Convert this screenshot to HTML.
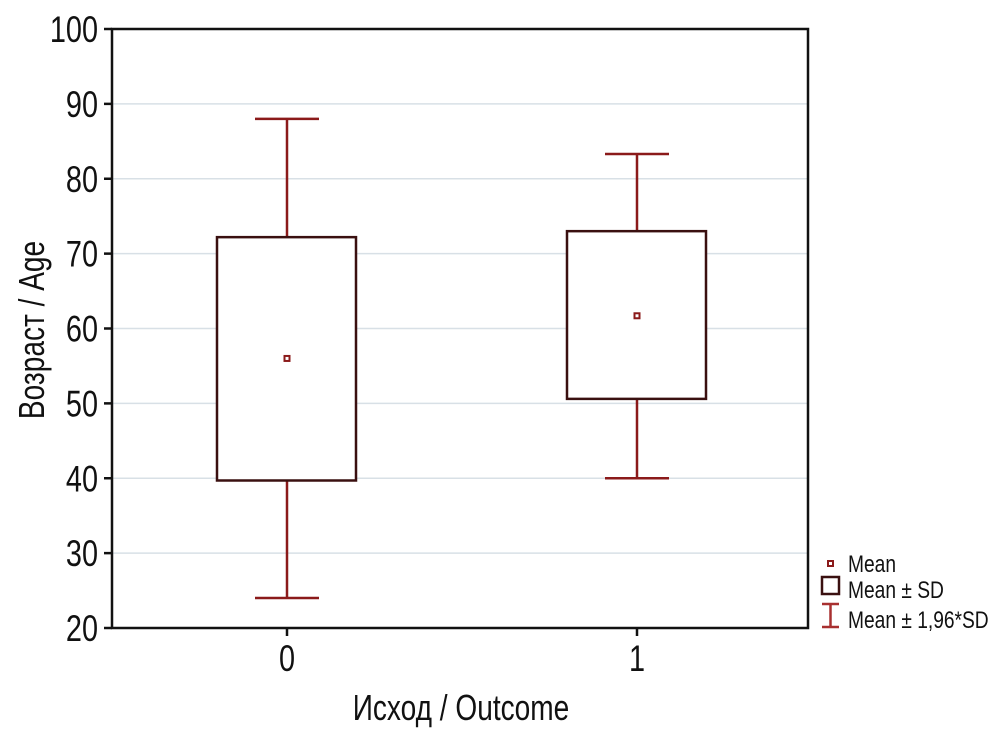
<!DOCTYPE html>
<html><head><meta charset="utf-8"><style>
body{margin:0;background:#fff;}
svg text{font-family:"Liberation Sans",sans-serif;fill:#111;}
</style></head><body>
<svg width="1004" height="735" xmlns="http://www.w3.org/2000/svg">
<g id="grid"></g>
<rect x="112" y="29" width="696" height="599" fill="none" stroke="#111" stroke-width="2.5"/>
<g id="yticks"></g>
<g id="xticks"></g>
<g id="series"></g>
<text x="0" y="0" transform="translate(44,330) rotate(-90) scale(0.78,1)" text-anchor="middle" font-size="36">Возраст / Age</text>
<text x="0" y="0" transform="translate(461,720) scale(0.78,1)" text-anchor="middle" font-size="36">Исход / Outcome</text>
<g>
<g><rect x="828" y="561" width="5" height="5" fill="none" stroke="#8b1a1a" stroke-width="2"/><text transform="translate(848,572) scale(0.8,1)" font-size="24">Mean</text></g>
<g><rect x="822" y="577" width="17" height="17" fill="none" stroke="#3a1010" stroke-width="2.5"/><text transform="translate(848,598) scale(0.8,1)" font-size="24">Mean ± SD</text></g>
<g><path d="M822,604 H839 M830.5,604 V627 M822,627 H839" stroke="#a83030" stroke-width="2.5" fill="none"/><text transform="translate(848,628) scale(0.8,1)" font-size="24">Mean ± 1,96*SD</text></g>
</g>
</svg>
<script>
const categories=["0","1"];
const means=[56,61.7];
const sdLow=[39.7,50.6];
const sdHigh=[72.2,73];
const wLow=[24,40];
const wHigh=[88,83.3];
const yTicks=[20,30,40,50,60,70,80,90,100];
const NS="http://www.w3.org/2000/svg";
const y=v=>628-(v-20)*599/80;
const x=i=>287+i*350;
function mk(parent,tag,attrs){const e=document.createElementNS(NS,tag);for(const k in attrs)e.setAttribute(k,attrs[k]);document.getElementById(parent).appendChild(e);return e;}
yTicks.forEach(t=>{
 if(t>20&&t<100){const g=mk("grid","line",{x1:113,x2:807,y1:y(t),y2:y(t),stroke:"#d8e0e6","stroke-width":1.5});
 
 }
 const tk=mk("yticks","line",{x1:104,x2:112,y1:y(t),y2:y(t),stroke:"#111","stroke-width":2.5});
 
 
 const tx=mk("yticks","text",{transform:`translate(98,${y(t)+13}) scale(0.78,1)`,"text-anchor":"end","font-size":37});
 tx.textContent=t;
 
 
});
categories.forEach((c,i)=>{
 const tk=mk("xticks","line",{x1:x(i),x2:x(i),y1:628,y2:636,stroke:"#111","stroke-width":2.5});
 
 
 const tx=mk("xticks","text",{transform:`translate(${x(i)},671) scale(0.78,1)`,"text-anchor":"middle","font-size":37});
 tx.textContent=c;
 
 
 const cx=x(i);
 const wh=mk("series","path",{d:`M${cx},${y(wHigh[i])} V${y(sdHigh[i])} M${cx},${y(sdLow[i])} V${y(wLow[i])} M${cx-32},${y(wHigh[i])} H${cx+32} M${cx-32},${y(wLow[i])} H${cx+32}`,stroke:"#8b1a1a","stroke-width":2.5,fill:"none"});
 
 
 const bx=mk("series","rect",{x:cx-70,y:y(sdHigh[i]),width:139,height:y(sdLow[i])-y(sdHigh[i]),fill:"#fff",stroke:"#3a1010","stroke-width":2.5});
 
 
 const m=mk("series","rect",{x:cx-2.5,y:y(means[i])-2.5,width:5,height:5,fill:"none",stroke:"#8b1a1a","stroke-width":2});
 
 
});
</script>
</body></html>
